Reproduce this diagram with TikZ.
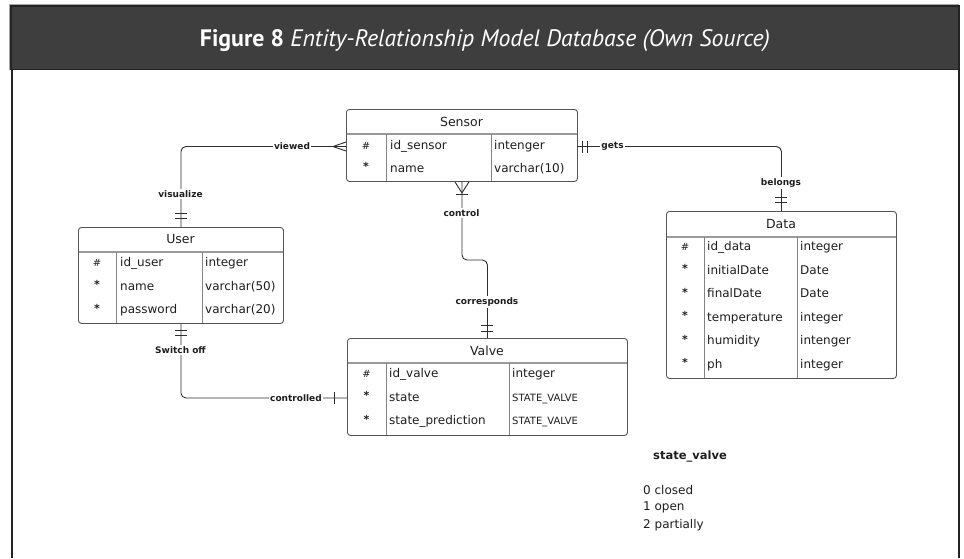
\documentclass[tikz,border=0pt]{standalone}
\usepackage{fontspec}
\setmainfont{DejaVu Sans}
\newfontfamily\titlefont{PT Sans}
\usetikzlibrary{calc}
\definecolor{hdrfill}{HTML}{3E3E3E}
\definecolor{hdrline}{HTML}{232323}
\definecolor{boxline}{HTML}{555555}
\definecolor{sepline}{HTML}{9A9A9A}
\definecolor{connline}{HTML}{2E2E2E}
\definecolor{txt}{HTML}{1E1E1E}
\tikzset{
  tbl/.style={draw=boxline, line width=0.9pt, rounded corners=3pt, inner sep=0pt, anchor=north west},
  thead/.style={font=\fontsize{12.5}{14}\selectfont, text=txt, inner sep=0pt},
  hsep/.style={draw=sepline, line width=1.6pt},
  csep/.style={draw=sepline!85!black, line width=0.9pt},
  keyc/.style={font=\fontsize{10}{12}\selectfont, text=txt, inner sep=0pt, text height=7, text depth=1},
  stc/.style={font=\bfseries\fontsize{11}{12}\selectfont, text=txt, inner sep=0pt, text height=5, text depth=0},
  fld/.style={font=\fontsize{12}{14}\selectfont, text=txt, anchor=west, inner sep=0pt, text height=9, text depth=2.5},
  fldsm/.style={font=\fontsize{10}{12}\selectfont, text=txt, anchor=west, inner sep=0pt, text height=8, text depth=2},
  conn/.style={draw=connline, line width=0.9pt, rounded corners=5pt},
  markline/.style={draw=connline, line width=0.9pt},
  lbl/.style={font=\bfseries\fontsize{9}{10}\selectfont, text=txt, fill=white, inner sep=1.5pt},
  note/.style={font=\fontsize{12}{14}\selectfont, text=txt, anchor=west, inner sep=0pt},
}
\begin{document}
\begin{tikzpicture}[x=1pt,y=-1pt]
\useasboundingbox (0,0) rectangle (964,558);
\fill[white] (0,0) rectangle (964,558);
% frame
\draw[line width=2pt, draw=hdrline] (12,70) -- (12,558);
\draw[line width=2.4pt, draw=hdrline] (958.8,70) -- (958.8,558);
\draw[draw=gray!70, line width=1pt] (9.5,70) -- (9.5,4.5) -- (959,4.5);
\path[fill=hdrfill, draw=hdrline, line width=1.6pt] (10.8,5.8) rectangle (959,69.5);
\node[text=white, inner sep=0pt] (title) at (485,41)
  {\resizebox{570pt}{!}{\titlefont\fontsize{20}{24}\selectfont\textbf{Figure 8} \textit{Entity-Relationship Model Database (Own Source)}}};

% ---------- Sensor ----------
\node[tbl, minimum width=231pt, minimum height=72pt] (sensor) at (346,109) {};
\node[thead] (sensorT) at (461.5,121.5) {Sensor};
\draw[hsep] (346.5,134) -- (576.5,134);
\draw[csep] (386,134) -- (386,181);
\draw[csep] (491,134) -- (491,181);
\node[keyc] (sk1) at (366,146) {\#};
\node[fld] (sf1) at (390,146) {id\_sensor};
\node[fld] (st1) at (494,146) {intenger};
\node[stc] (sk2) at (366,168) {*};
\node[fld] (sf2) at (390,169) {name};
\node[fld] (st2) at (494,169) {varchar(10)};
\coordinate (sW) at (346,146.5);
\coordinate (sE) at (577,146.5);

% ---------- User ----------
\node[tbl, minimum width=205pt, minimum height=96pt] (user) at (78,227) {};
\node[thead] (userT) at (180.5,239.5) {User};
\draw[hsep] (78.5,252) -- (282.5,252);
\draw[csep] (116,252) -- (116,323);
\draw[csep] (202,252) -- (202,323);
\node[keyc] (uk1) at (97,263.5) {\#};
\node[fld] (uf1) at (120,263.5) {id\_user};
\node[fld] (ut1) at (205,263.5) {integer};
\node[stc] (uk2) at (97,286) {*};
\node[fld] (uf2) at (120,287) {name};
\node[fld] (ut2) at (205,287) {varchar(50)};
\node[stc] (uk3) at (97,309.5) {*};
\node[fld] (uf3) at (120,310.5) {password};
\node[fld] (ut3) at (205,310.5) {varchar(20)};

% ---------- Valve ----------
\node[tbl, minimum width=280pt, minimum height=97pt] (valve) at (347,338) {};
\node[thead] (valveT) at (487,350.5) {Valve};
\draw[hsep] (347.5,363) -- (626.5,363);
\draw[csep] (386,363) -- (386,435);
\draw[csep] (509,363) -- (509,435);
\node[keyc] (vk1) at (366.5,374.5) {\#};
\node[fld] (vf1) at (389,374.5) {id\_valve};
\node[fld] (vt1) at (512,374.5) {integer};
\node[stc] (vk2) at (366.5,397) {*};
\node[fld] (vf2) at (389,398) {state};
\node[fldsm] (vt2) at (512,398) {STATE\_VALVE};
\node[stc] (vk3) at (366.5,420.5) {*};
\node[fld] (vf3) at (389,421.5) {state\_prediction};
\node[fldsm] (vt3) at (512,421.5) {STATE\_VALVE};
\coordinate (vW) at (347,398);

% ---------- Data ----------
\node[tbl, minimum width=230pt, minimum height=167pt] (data) at (666,211) {};
\node[thead] (dataT) at (781,224) {Data};
\draw[hsep] (666.5,237) -- (895.5,237);
\draw[csep] (704,237) -- (704,378);
\draw[csep] (797,237) -- (797,378);
\node[keyc] (dk1) at (685,247.5) {\#};
\node[fld] (df1) at (707,247.5) {id\_data};
\node[fld] (dt1) at (800,247.5) {integer};
\node[stc] (dk2) at (685,270) {*};
\node[fld] (df2) at (707,271) {initialDate};
\node[fld] (dt2) at (800,271) {Date};
\node[stc] (dk3) at (685,293.5) {*};
\node[fld] (df3) at (707,294.5) {finalDate};
\node[fld] (dt3) at (800,294.5) {Date};
\node[stc] (dk4) at (685,317) {*};
\node[fld] (df4) at (707,318) {temperature};
\node[fld] (dt4) at (800,318) {integer};
\node[stc] (dk5) at (685,340.5) {*};
\node[fld] (df5) at (707,341.5) {humidity};
\node[fld] (dt5) at (800,341.5) {intenger};
\node[stc] (dk6) at (685,364) {*};
\node[fld] (df6) at (707,365) {ph};
\node[fld] (dt6) at (800,365) {integer};

% ---------- connectors ----------
\draw[conn] (sW) -| (user.north);
\draw[conn] (sE) -| (data.north);
\draw[conn] (sensor.south) -- (sensor.south |- 0,260) -| (valve.north);
\draw[conn] (user.south) |- (vW);

% markers
\draw[markline] ($(sW)+(0,-4.5)$) -- ($(sW)+(-13,0)$) -- ($(sW)+(0,4.5)$);
\draw[markline] ($(sE)+(5,-6)$) -- ($(sE)+(5,6)$);
\draw[markline] ($(sE)+(10,-6)$) -- ($(sE)+(10,6)$);
\draw[markline] ($(user.north)+(-6,-14)$) -- ($(user.north)+(6,-14)$);
\draw[markline] ($(user.north)+(-6,-9)$) -- ($(user.north)+(6,-9)$);
\draw[markline] ($(user.south)+(-6,7)$) -- ($(user.south)+(6,7)$);
\draw[markline] ($(user.south)+(-6,12)$) -- ($(user.south)+(6,12)$);
\draw[markline] ($(vW)+(-13,-6)$) -- ($(vW)+(-13,6)$);
\draw[markline] ($(data.north)+(-6,-14)$) -- ($(data.north)+(6,-14)$);
\draw[markline] ($(data.north)+(-6,-9)$) -- ($(data.north)+(6,-9)$);
\draw[markline] ($(valve.north)+(-6,-13)$) -- ($(valve.north)+(6,-13)$);
\draw[markline] ($(valve.north)+(-6,-7)$) -- ($(valve.north)+(6,-7)$);
\draw[markline] ($(sensor.south)+(-7,0)$) -- ($(sensor.south)+(0,11)$) -- ($(sensor.south)+(7,0)$);
\draw[markline] ($(sensor.south)+(-6,12.5)$) -- ($(sensor.south)+(6,12.5)$);

% labels
\node[lbl] (lviewed) at (292,146.5) {viewed};
\node[lbl] (lvis) at (180.5,194) {visualize};
\node[lbl] (lgets) at (612.5,146.5) {gets};
\node[lbl] (lbelongs) at (781,183) {belongs};
\node[lbl] (lcontrol) at (461.5,213) {control};
\node[lbl] (lcorr) at (487,302) {corresponds};
\node[lbl] (lswitch) at (180.5,350) {Switch off};
\node[lbl] (lcontrolled) at (296,398) {controlled};

% note
\node[note, font=\bfseries\fontsize{11.5}{13}\selectfont] (nhead) at (653,456) {state\_valve};
\node[note] (n0) at (643,490) {0 closed};
\node[note] (n1) at (643,507.5) {1 open};
\node[note] (n2) at (643,525) {2 partially};
\end{tikzpicture}
\end{document}
